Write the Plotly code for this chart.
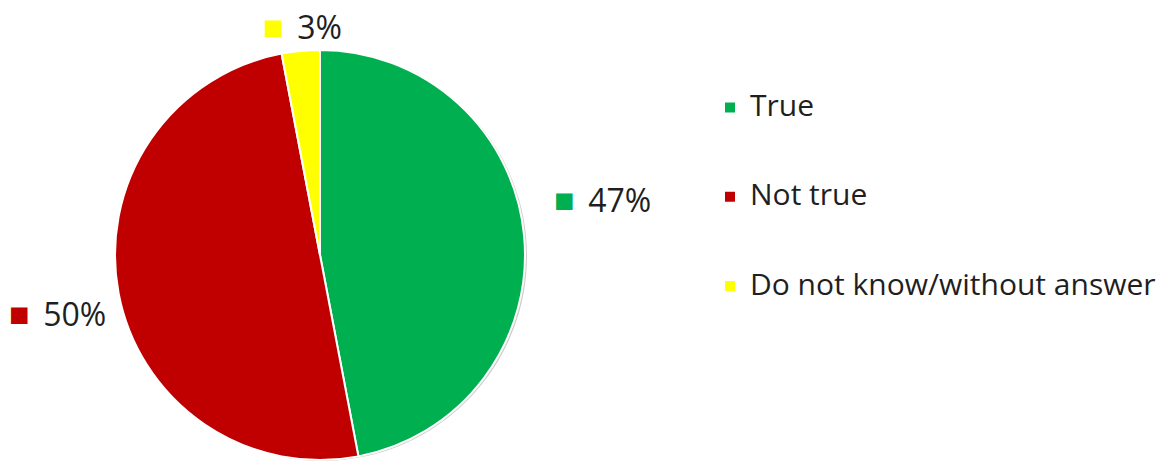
import plotly.graph_objects as go

labels = ["True", "Not true", "Do not know/without answer"]
values = [47, 50, 3]
colors = ["#00B050", "#C00000", "#FFFF00"]

W, H = 1164, 462
FONT = "Segoe UI, Open Sans, Noto Sans, sans-serif"
TXT = "#1f1f1f"

# pie geometry (pixels)
cx, cy, r = 320, 255, 205

def clamp(v):
    return max(0.0, min(1.0, v))

def dom(cx_, cy_, r_):
    return dict(x=[clamp((cx_ - r_) / W), clamp((cx_ + r_) / W)],
                y=[clamp(1 - (cy_ + r_) / H), clamp(1 - (cy_ - r_) / H)])

nb = "\u00a0"
legend_labels = [f"{nb}<br><span style='font-size:30px'>{l}</span><br>{nb}" for l in labels]

fig = go.Figure()
# soft shadow
fig.add_trace(go.Pie(
    labels=legend_labels, values=values, sort=False, direction="clockwise", rotation=0,
    domain=dom(cx + 2, cy + 1, r), marker=dict(colors=["rgba(0,0,0,0.2)"] * 3, line=dict(width=0)),
    textinfo="none", hoverinfo="skip", showlegend=False,
))
fig.add_trace(go.Pie(
    labels=legend_labels, values=values, sort=False, direction="clockwise", rotation=0,
    domain=dom(cx, cy, r), marker=dict(colors=colors, line=dict(color="white", width=2)),
    textinfo="none", showlegend=True,
))

# outside data labels
label_pos = [(552, 199), (7, 313), (261, 26)]
total = sum(values)
for v, c, (px, py) in zip(values, colors, label_pos):
    fig.add_annotation(
        x=px / W, y=1 - py / H, xref="paper", yref="paper", xanchor="left", yanchor="middle",
        text=f"<span style='color:{c};font-size:34px'>■</span>\u2009 {round(v / total * 100)}%",
        showarrow=False, font=dict(family=FONT, size=32, color=TXT),
    )

fig.update_layout(
    width=W, height=H, margin=dict(l=0, r=0, t=0, b=0),
    paper_bgcolor="white", plot_bgcolor="white",
    legend=dict(x=710 / W, y=1 - 58 / H, xanchor="left", yanchor="top",
                font=dict(family=FONT, size=22.1, color=TXT), traceorder="normal"),
)
fig.write_html("out.html")
